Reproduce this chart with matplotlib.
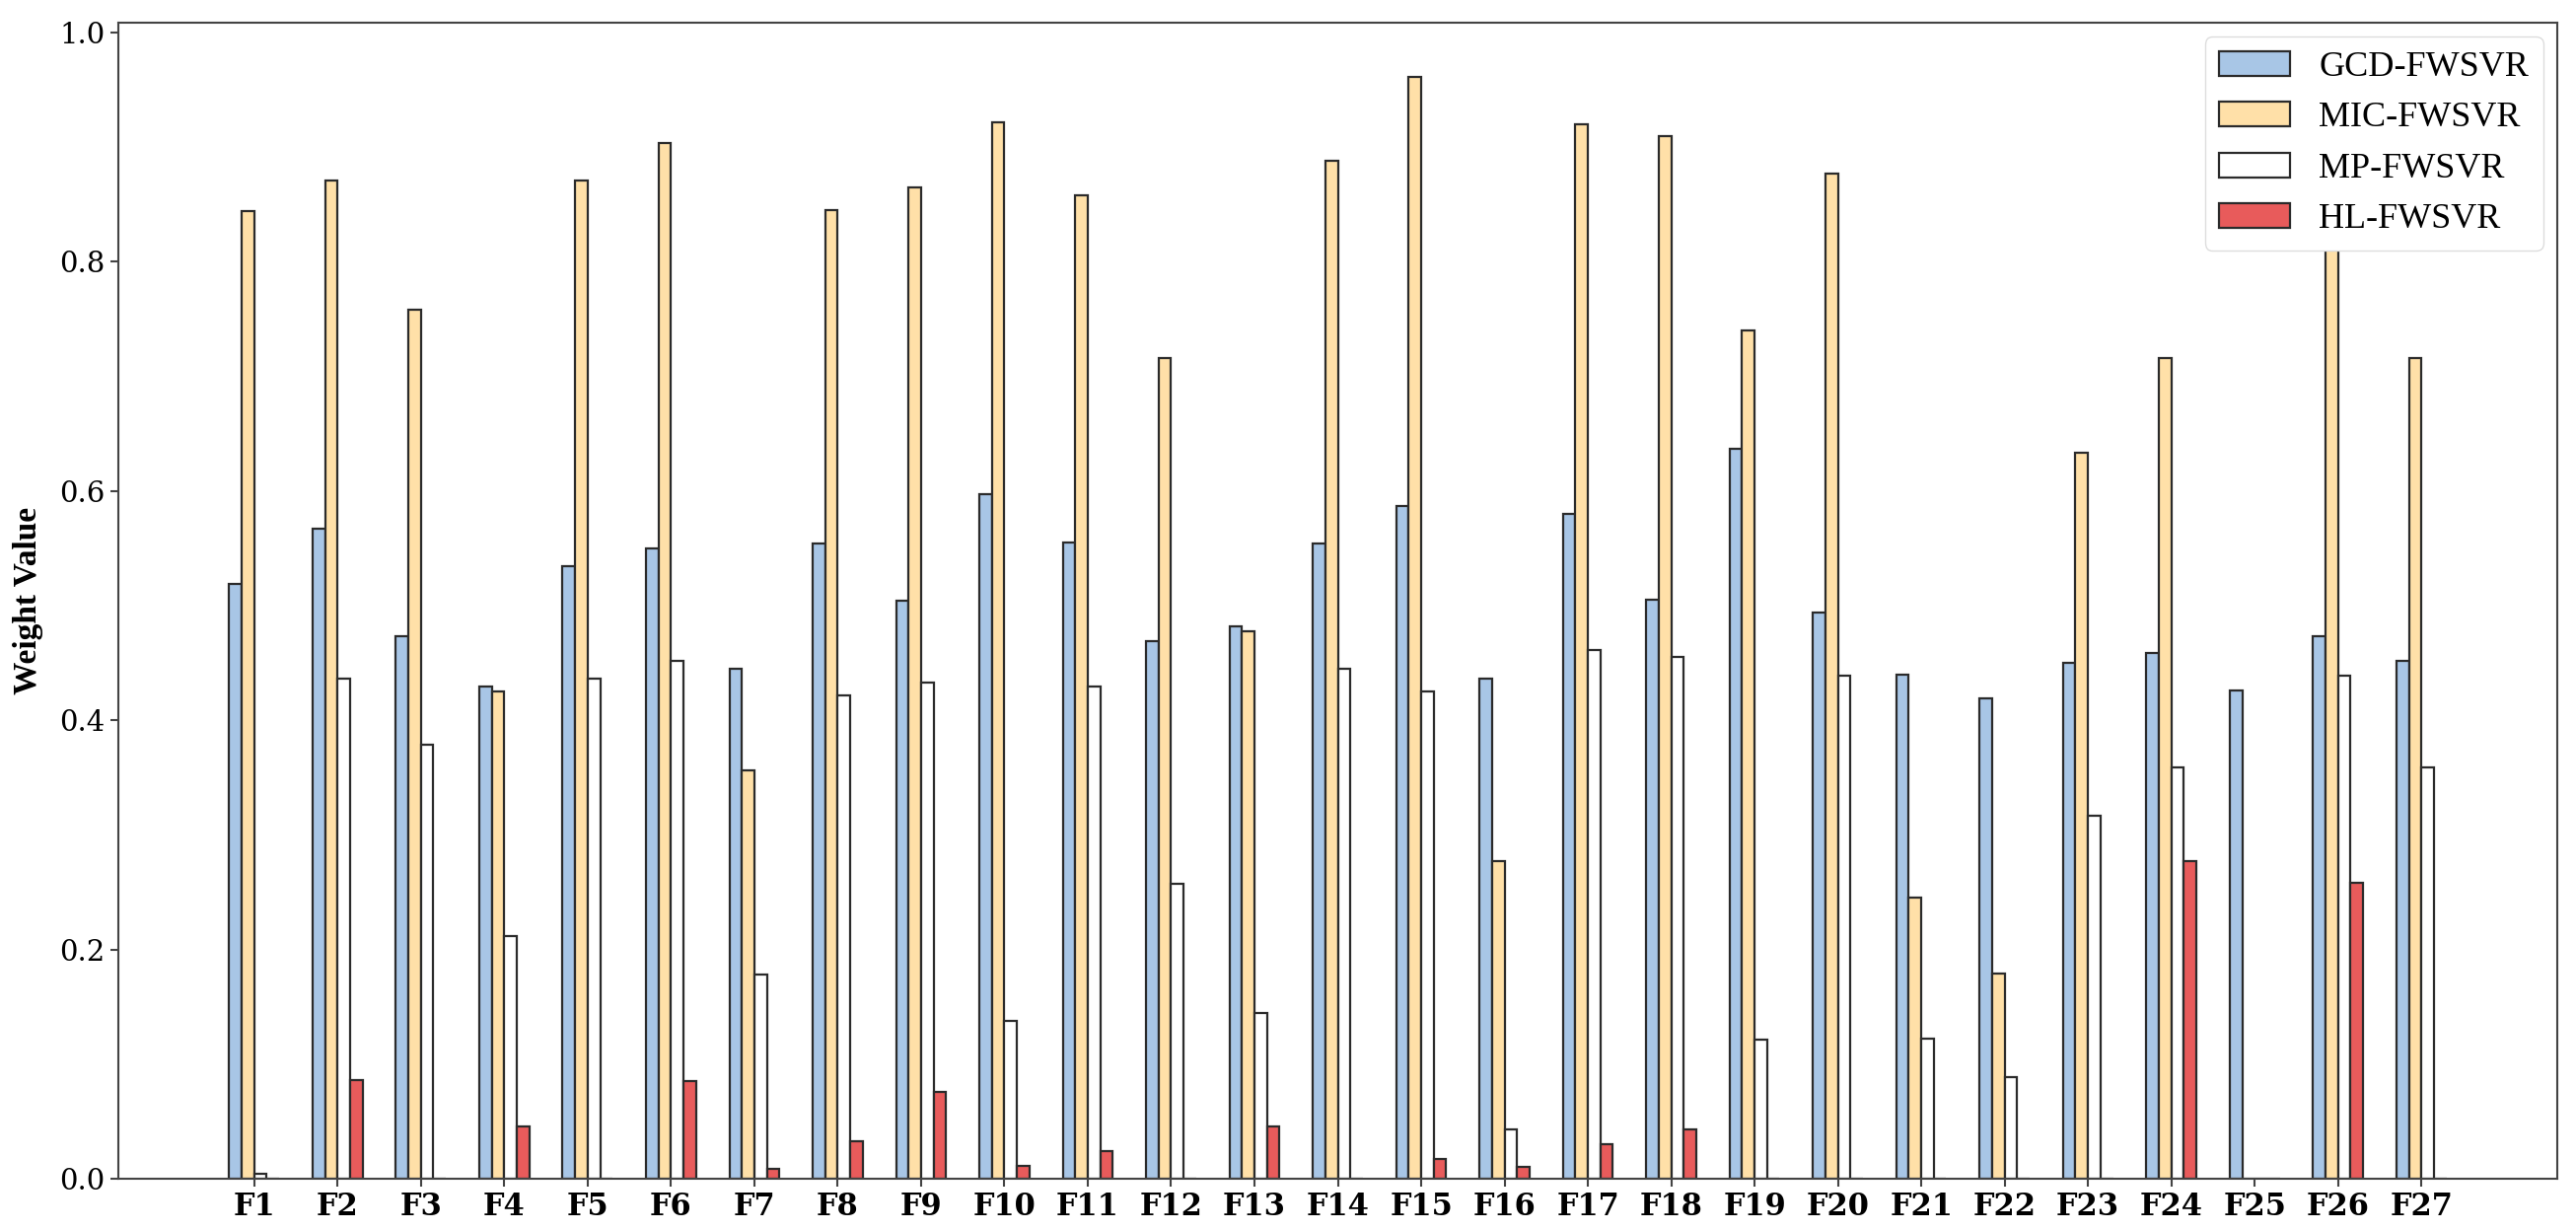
import matplotlib
matplotlib.use("Agg")
import matplotlib.pyplot as plt
import numpy as np

categories = [f"F{i}" for i in range(1, 28)]
series_names = ["GCD-FWSVR", "MIC-FWSVR", "MP-FWSVR", "HL-FWSVR"]

gcd = [0.519, 0.567, 0.473, 0.429, 0.534, 0.550, 0.445, 0.554, 0.504, 0.597,
       0.555, 0.469, 0.482, 0.554, 0.587, 0.436, 0.580, 0.505, 0.637, 0.494,
       0.440, 0.419, 0.450, 0.459, 0.426, 0.473, 0.452]
mic = [0.844, 0.871, 0.758, 0.425, 0.871, 0.904, 0.356, 0.845, 0.865, 0.922,
       0.858, 0.716, 0.478, 0.888, 0.961, 0.277, 0.920, 0.910, 0.740, 0.877,
       0.245, 0.179, 0.633, 0.716, 0.0, 0.870, 0.716]
mp = [0.004, 0.436, 0.379, 0.212, 0.436, 0.452, 0.178, 0.422, 0.433, 0.138,
      0.429, 0.257, 0.145, 0.445, 0.425, 0.043, 0.461, 0.455, 0.121, 0.439,
      0.122, 0.089, 0.317, 0.359, 0.0, 0.439, 0.359]
hl = [0.0, 0.086, 0.0, 0.046, 0.0, 0.085, 0.009, 0.033, 0.076, 0.011,
      0.024, 0.0, 0.046, 0.0, 0.017, 0.010, 0.030, 0.043, 0.0, 0.0,
      0.0, 0.0, 0.0, 0.277, 0.0, 0.258, 0.0]

colors = ["#a8c6e6", "#ffe0a8", "#ffffff", "#e85b5b"]

fig = plt.figure(figsize=(26.12, 12.48), dpi=100)
ax = fig.add_axes([120/2612, 1 - 1195/1248, (2593-120)/2612, (1195-23)/1248])

x = np.arange(len(categories))
w = 0.15
for i, (vals, name, c) in enumerate(zip([gcd, mic, mp, hl], series_names, colors)):
    ax.bar(x + (i - 1.5) * w, vals, width=w, color=c, edgecolor="#2b2b2b",
           linewidth=1.6, label=name)

ax.set_xlim(-1.63, 27.63)
ax.set_ylim(0, 1.0086)
ax.set_xticks(x)
ax.set_xticklabels(categories, fontfamily="DejaVu Serif", fontweight="bold", fontsize=22)
ax.set_yticks([0.0, 0.2, 0.4, 0.6, 0.8, 1.0])
ax.set_yticklabels(["0.0", "0.2", "0.4", "0.6", "0.8", "1.0"],
                   fontfamily="DejaVu Serif", fontsize=21)
ax.tick_params(axis="both", length=6, width=1.5, color="#444444")
ax.set_ylabel("Weight Value", fontfamily="Liberation Serif", fontweight="bold",
              fontsize=24, labelpad=12)
for s in ax.spines.values():
    s.set_color("#444444")
    s.set_linewidth(1.5)

leg = ax.legend(loc="upper right", prop={"family": "Liberation Serif", "size": 26},
                borderaxespad=0.4, handlelength=2.0, handleheight=0.7,
                framealpha=1.0, edgecolor="#dddddd")

fig.savefig("out.png", dpi=100)
